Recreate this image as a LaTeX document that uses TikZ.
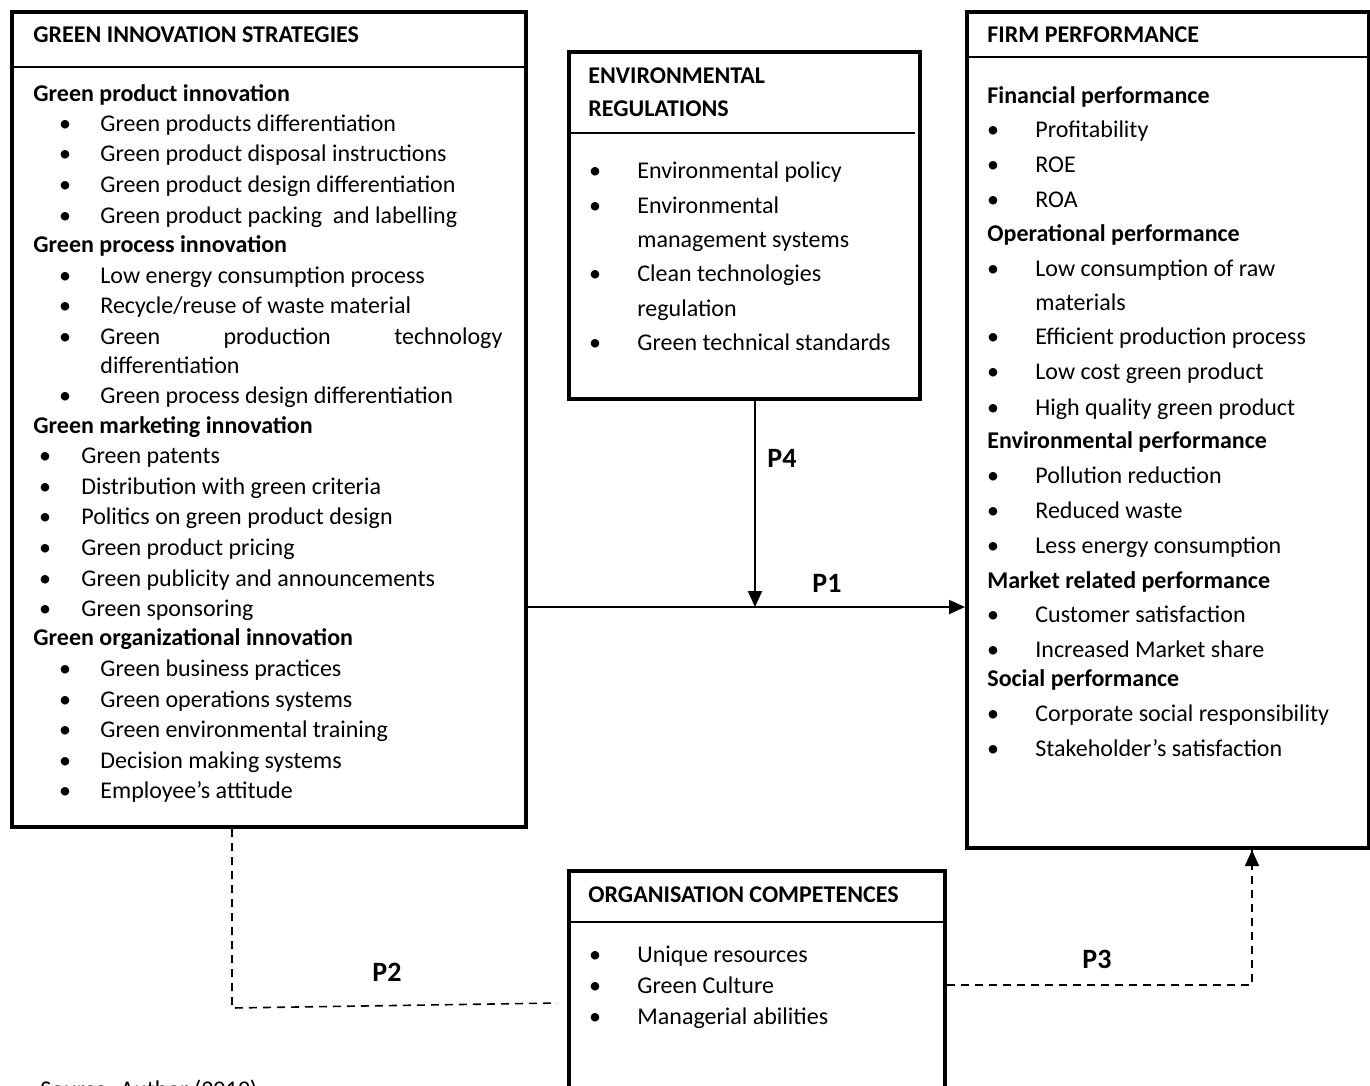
\documentclass[tikz,border=0pt]{standalone}
\usepackage{fontspec}
\setmainfont{Carlito}
\usepackage{tikz}
\usetikzlibrary{calc,positioning,arrows.meta}
\definecolor{frameblack}{HTML}{000000}
\newcommand\diagfont{\fontsize{12pt}{14pt}\selectfont}

\tikzset{
  boxframe/.style={draw=frameblack, line width=2pt, anchor=north west, inner sep=0pt},
  sepline/.style={draw=frameblack, line width=1pt},
  headtxt/.style={anchor=mid west, inner sep=0pt, yshift=-1pt, font=\diagfont\bfseries},
  itemtxt/.style={anchor=mid west, inner sep=0pt, yshift=-1pt, font=\diagfont},
  bultxt/.style={anchor=mid, inner sep=0pt, yshift=-1pt, font=\diagfont},
  plabel/.style={anchor=mid, inner sep=0pt, yshift=-1pt, font=\fontsize{14pt}{16pt}\selectfont\bfseries},
  solidarrow/.style={line width=1pt, -{Triangle[length=8pt,width=7pt]}},
  dashline/.style={line width=0.8pt, dash pattern=on 4pt off 3pt},
}

\begin{document}
\begin{tikzpicture}[x=0.5pt, y=-0.5pt, font=\diagfont]
  \useasboundingbox (0,0) rectangle (1370,1086);

  % boxes
  \node[boxframe, minimum width=257pt, minimum height=407.5pt] (gis) at (10,10) {};
  \node[boxframe, minimum width=175.5pt, minimum height=173.5pt] (env) at (567,50) {};
  \node[boxframe, minimum width=201pt, minimum height=418pt] (firm) at (965,10) {};
  \node[boxframe, minimum width=188pt, minimum height=120pt] (org) at (567,869) {};

  \draw[sepline] (gis.west |- 0,67) -- (gis.east |- 0,67);
  \draw[sepline] (env.west |- 0,133) -- (915,133);
  \draw[sepline] (firm.west |- 0,57) -- (firm.east |- 0,57);
  \draw[sepline] (org.west |- 0,922) -- (org.east |- 0,922);

  % headers
  \node[headtxt] (gish) at (33,36) {GREEN INNOVATION STRATEGIES};
  \node[headtxt] (envh) at (588,77) {ENVIRONMENTAL};
  \node[headtxt] (envh2) at (588,110) {REGULATIONS};
  \node[headtxt] (firmh) at (987,36) {FIRM PERFORMANCE};
  \node[headtxt] (orgh) at (588,896) {ORGANISATION COMPETENCES};

  % green innovation strategies
  \node[headtxt] (gs1) at (33,95) {Green product innovation};
  \foreach \y/\t [count=\i] in {125/Green products differentiation,
      155/Green product disposal instructions,
      186/Green product design differentiation,
      217/Green product packing\ \ and labelling} {
    \node[bultxt] (gb1\i) at (65,\y) {•};
    \node[itemtxt] (gt1\i) at (100,\y) {\t};
  }
  \node[headtxt] (gs2) at (33,246) {Green process innovation};
  \foreach \y/\t [count=\i] in {277/Low energy consumption process,
      307/Recycle{/}reuse of waste material,
      397/Green process design differentiation} {
    \node[bultxt] (gb2\i) at (65,\y) {•};
    \node[itemtxt] (gt2\i) at (100,\y) {\t};
  }
  \node[bultxt] (gb24) at (65,338) {•};
  \node[itemtxt] (gt24) at (100,338) {\makebox[201pt][s]{Green\hfill production\hfill technology}};
  \node[itemtxt] (gt25) at (100,367) {differentiation};
  \node[headtxt] (gs3) at (33,427) {Green marketing innovation};
  \foreach \y/\t [count=\i] in {457/Green patents,
      488/Distribution with green criteria,
      518/Politics on green product design,
      549/Green product pricing,
      580/Green publicity and announcements,
      610/Green sponsoring} {
    \node[bultxt] (gb3\i) at (45,\y) {•};
    \node[itemtxt] (gt3\i) at (81,\y) {\t};
  }
  \node[headtxt] (gs4) at (33,639) {Green organizational innovation};
  \foreach \y/\t [count=\i] in {670/Green business practices,
      701/Green operations systems,
      731/Green environmental training,
      762/Decision making systems,
      792/Employee’s attitude} {
    \node[bultxt] (gb4\i) at (65,\y) {•};
    \node[itemtxt] (gt4\i) at (100,\y) {\t};
  }

  % environmental regulations
  \foreach \y in {172,207,275,344} {
    \node[bultxt] (eb\y) at (595,\y) {•};
  }
  \foreach \y/\t in {172/Environmental policy, 207/Environmental,
      241/management systems, 275/Clean technologies,
      310/regulation, 344/Green technical standards} {
    \node[itemtxt] (et\y) at (637,\y) {\t};
  }

  % firm performance
  \foreach \y/\t in {97/Financial performance, 235/Operational performance,
      442/Environmental performance, 582/Market related performance,
      680/Social performance} {
    \node[headtxt] (fs\y) at (987,\y) {\t};
  }
  \foreach \y in {131,166,201,270,338,373,409,477,512,547,616,651,715,750} {
    \node[bultxt] (fb\y) at (993,\y) {•};
  }
  \foreach \y/\t in {131/Profitability, 166/ROE, 201/ROA,
      270/Low consumption of raw, 304/materials,
      338/Efficient production process, 373/Low cost green product,
      409/High quality green product, 477/Pollution reduction,
      512/Reduced waste, 547/Less energy consumption,
      616/Customer satisfaction, 651/Increased Market share,
      715/Corporate social responsibility, 750/Stakeholder’s satisfaction} {
    \node[itemtxt] (ft\y) at (1035,\y) {\t};
  }

  % organisation competences
  \foreach \y/\t in {956/Unique resources, 987/Green Culture, 1018/Managerial abilities} {
    \node[bultxt] (ob\y) at (595,\y) {•};
    \node[itemtxt] (ot\y) at (637,\y) {\t};
  }

  % connectors
  \coordinate (junc) at (755,607);
  \draw[solidarrow] (gis.east |- junc) -- (firm.west |- junc);
  \draw[solidarrow] (env.south -| junc) -- (junc);
  \node[plabel] (p4) at (782,461) {P4};
  \node[plabel] (p1) at (827,586) {P1};

  \coordinate (p2corner) at (232,1008);
  \coordinate (p2end) at (557,1003);
  \draw[dashline] (gis.south -| p2corner) -- (p2corner) -- (p2end);
  \node[plabel] (p2) at (387,975) {P2};

  \coordinate (p3corner) at (1252,985);
  \draw[dashline] (org.east |- p3corner) -- (p3corner) -- (firm.south -| p3corner);
  \draw[-{Triangle[length=8pt,width=7pt]}, line width=0.8pt] ($(firm.south -| p3corner)+(0,14)$) -- (firm.south -| p3corner);
  \node[plabel] (p3) at (1097,962) {P3};

  \node[anchor=base west, inner sep=0pt] (src) at (40,1097) {Source: Author (2019)};
\end{tikzpicture}
\end{document}
